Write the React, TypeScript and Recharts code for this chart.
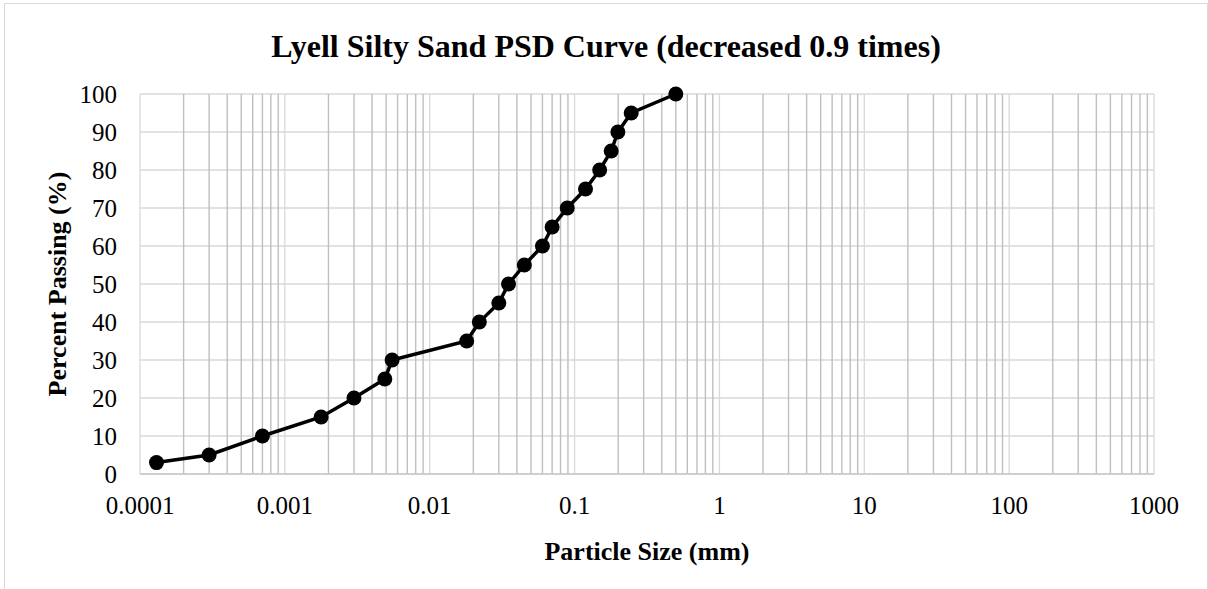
import React from 'react';
import { LineChart, Line, XAxis, YAxis, CartesianGrid, ReferenceLine, Label } from 'recharts';

const sizes = [0.00013, 0.0003, 0.0007, 0.00178, 0.003, 0.0049, 0.0055, 0.018, 0.022, 0.03, 0.035, 0.045, 0.06, 0.07, 0.089, 0.119, 0.149, 0.179, 0.199, 0.246, 0.5];
const passing = [3, 5, 10, 15, 20, 25, 30, 35, 40, 45, 50, 55, 60, 65, 70, 75, 80, 85, 90, 95, 100];

const xTicks = [0.0001, 0.001, 0.01, 0.1, 1, 10, 100, 1000];
const xTickLabels = ['0.0001', '0.001', '0.01', '0.1', '1', '10', '100', '1000'];
const yTicks = [0, 10, 20, 30, 40, 50, 60, 70, 80, 90, 100];
const minorMultipliers = [2, 3, 4, 5, 6, 7, 8, 9];

const data = sizes.map((s, i) => ({ size: s, passing: passing[i] }));
const minorLines: number[] = [];
xTicks.slice(0, -1).forEach((d) => minorMultipliers.forEach((m) => minorLines.push(d * m)));

const FONT = "'Liberation Serif', 'Times New Roman', serif";

export default function App() {
  return (
    <div style={{ position: 'absolute', left: 4, top: 3, width: 1202, height: 600, border: '1px solid #d9d9d9', background: '#fff', fontFamily: FONT }}>
      <div style={{ position: 'absolute', left: 0, top: 26, width: 1202, textAlign: 'center', fontSize: 32, lineHeight: '32px', fontWeight: 'bold', color: '#000' }}>
        Lyell Silty Sand PSD Curve (decreased 0.9 times)
      </div>
      <div style={{ position: 'absolute', left: 0, top: 0 }}>
        <LineChart width={1202} height={600} data={data} margin={{ top: 90, right: 53, left: 55, bottom: 90 }}>
          <CartesianGrid horizontal={true} vertical={false} stroke="#d9d9d9" strokeWidth={1.3} />
          {minorLines.map((v) => (
            <ReferenceLine key={'m' + v} x={v} stroke="#bfbfbf" strokeWidth={1.4} />
          ))}
          {xTicks.map((v) => (
            <ReferenceLine key={'M' + v} x={v} stroke="#d9d9d9" strokeWidth={1.3} />
          ))}
          <XAxis
            type="number"
            dataKey="size"
            scale="log"
            domain={[0.0001, 1000]}
            ticks={xTicks}
            allowDataOverflow
            tickFormatter={(v: number) => xTickLabels[xTicks.indexOf(v)] ?? String(v)}
            tick={{ fontSize: 25, fill: '#000', fontFamily: FONT }}
            tickLine={false}
            tickSize={0}
            tickMargin={22}
            axisLine={{ stroke: '#c8c8c8', strokeWidth: 1.3 }}
            height={40}
            interval={0}
          >
            <Label value="Particle Size (mm)" position="center" dy={57} style={{ fontSize: 26, fontWeight: 'bold', fill: '#000', fontFamily: FONT }} />
          </XAxis>
          <YAxis
            type="number"
            domain={[0, 100]}
            ticks={yTicks}
            tick={{ fontSize: 25, fill: '#000', fontFamily: FONT }}
            tickLine={false}
            tickSize={0}
            tickMargin={23}
            axisLine={false}
            width={80}
            interval={0}
          >
            <Label value="Percent Passing (%)" angle={-90} position="center" dx={-43} style={{ fontSize: 26, fontWeight: 'bold', fill: '#000', fontFamily: FONT, textAnchor: 'middle' }} />
          </YAxis>
          <Line
            type="linear"
            dataKey="passing"
            stroke="#000"
            strokeWidth={3.5}
            dot={{ r: 7.5, fill: '#000', stroke: '#000', strokeWidth: 0 }}
            isAnimationActive={false}
          />
        </LineChart>
      </div>
    </div>
  );
}
